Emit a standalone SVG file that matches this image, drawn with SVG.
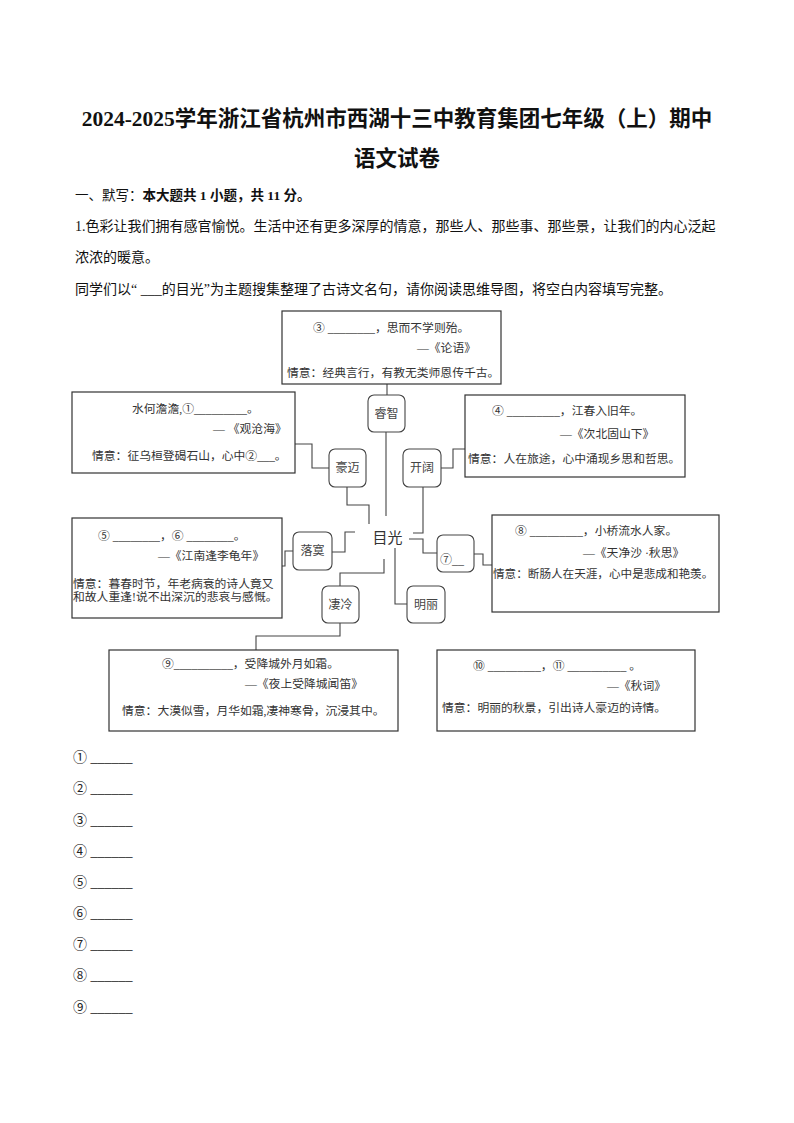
<svg xmlns="http://www.w3.org/2000/svg" width="794" height="1123" viewBox="0 0 794 1123">
<style>
text { font-family: "Liberation Serif", "Noto Sans CJK SC", serif; fill: #111; }
.title { font-size: 21.5px; font-weight: bold; text-anchor: middle; }
.body { font-size: 14px; }
.b { font-weight: bold; }
.bx { font-size: 11.8px; fill: #333; }
.box { fill: #fff; stroke: #333; stroke-width: 1.2; }
.node rect { fill: #fff; stroke: #444; stroke-width: 1.1; }
.lbl { font-size: 12px; fill: #444; text-anchor: middle; }
.center { font-size: 15px; fill: #333; text-anchor: middle; }
.conn polyline { fill: none; stroke: #444; stroke-width: 1.1; }
.ans { font-size: 14px; fill: #222; }
</style>
<rect width="794" height="1123" fill="#fff"/>

<text class="title" x="397" y="126">2024-2025学年浙江省杭州市西湖十三中教育集团七年级（上）期中</text>
<text class="title" x="397" y="166">语文试卷</text>
<text class="body" x="75" y="200" style="font-size:13.5px">一、默写：<tspan class="b">本大题共 1 小题，共 11 分。</tspan></text>
<text class="body" x="75" y="231">1.色彩让我们拥有感官愉悦。生活中还有更多深厚的情意，那些人、那些事、那些景，让我们的内心泛起</text>
<text class="body" x="75" y="262">浓浓的暖意。</text>
<text class="body" x="75" y="294">同学们以“ ___的目光”为主题搜集整理了古诗文名句，请你阅读思维导图，将空白内容填写完整。</text>

<g id="connectors" class="conn">
  <polyline points="387,384 387,395"/>
  <polyline points="386,432 386,516"/>
  <polyline points="295,444 312,444 312,468 329,468"/>
  <polyline points="347,487 347,505 369,505 369,524"/>
  <polyline points="465,449 453,449 453,468 441,468"/>
  <polyline points="423,487 423,533 413,533"/>
  <polyline points="409,539 423,539 423,553 437,553"/>
  <polyline points="474,554 483,554 483,565 492,565"/>
  <polyline points="355,532 345,532 345,552 332,552"/>
  <polyline points="293,551 285,551 285,566 282,566"/>
  <polyline points="384,559 384,573 340,573 340,586"/>
  <polyline points="340,623 340,636 256,636 256,650"/>
  <polyline points="395,548 395,604 407,604"/>
</g>

<g id="box3">
  <rect class="box" x="282" y="311" width="219" height="73"/>
  <text class="bx" x="313" y="332">③ ________，思而不学则殆。</text>
  <text class="bx" x="417" y="352">—《论语》</text>
  <text class="bx" x="287" y="377">情意：经典言行，有教无类师恩传千古。</text>
</g>
<g id="box12">
  <rect class="box" x="72" y="392" width="223" height="81"/>
  <text class="bx" x="132" y="413">水何澹澹,①_________。</text>
  <text class="bx" x="213" y="433">— 《观沧海》</text>
  <text class="bx" x="92" y="460">情意：征乌桓登碣石山，心中②___。</text>
</g>
<g id="box4">
  <rect class="box" x="465" y="395" width="220" height="82"/>
  <text class="bx" x="492" y="415">④ _________，江春入旧年。</text>
  <text class="bx" x="560" y="438">—《次北固山下》</text>
  <text class="bx" x="468" y="463">情意：人在旅途，心中涌现乡思和哲思。</text>
</g>
<g id="box56">
  <rect class="box" x="72" y="518" width="210" height="100"/>
  <text class="bx" x="98" y="540">⑤ ________，⑥ ________。</text>
  <text class="bx" x="158" y="560">—《江南逢李龟年》</text>
  <text class="bx" x="73" y="588">情意：暮春时节，年老病衰的诗人竟又</text>
  <text class="bx" x="73" y="601">和故人重逢!说不出深沉的悲哀与感慨。</text>
</g>
<g id="box8">
  <rect class="box" x="492" y="515" width="227" height="97"/>
  <text class="bx" x="515" y="535">⑧ _________，小桥流水人家。</text>
  <text class="bx" x="583" y="557">—《天净沙 ·秋思》</text>
  <text class="bx" x="493" y="578" style="font-size:11.6px">情意：断肠人在天涯，心中是悲成和艳羡。</text>
</g>
<g id="box9">
  <rect class="box" x="109" y="650" width="289" height="81"/>
  <text class="bx" x="162" y="668">⑨__________，受降城外月如霜。</text>
  <text class="bx" x="245" y="688">—《夜上受降城闻笛》</text>
  <text class="bx" x="122" y="715">情意：大漠似雪，月华如霜,凄神寒骨，沉浸其中。</text>
</g>
<g id="box1011">
  <rect class="box" x="437" y="650" width="258" height="81"/>
  <text class="bx" x="473" y="670">⑩ _________，⑪ __________ 。</text>
  <text class="bx" x="607" y="690">—《秋词》</text>
  <text class="bx" x="442" y="712">情意：明丽的秋景，引出诗人豪迈的诗情。</text>
</g>

<g id="node-ruizhi" class="node"><rect x="368" y="395" width="37" height="37" rx="6"/><text class="lbl" x="386.5" y="418">睿智</text></g>
<g id="node-haomai" class="node"><rect x="329" y="449" width="37" height="38" rx="6"/><text class="lbl" x="347.5" y="472">豪迈</text></g>
<g id="node-kaikuo" class="node"><rect x="403" y="449" width="38" height="38" rx="6"/><text class="lbl" x="422" y="472">开阔</text></g>
<g id="node-mubiao"><text class="center" x="387.5" y="543">目光</text></g>
<g id="node-luomo" class="node"><rect x="293" y="532" width="39" height="38" rx="6"/><text class="lbl" x="312.5" y="555">落寞</text></g>
<g id="node-7" class="node"><rect x="437" y="535" width="37" height="37" rx="6"/><text class="lbl" x="440" y="564" style="text-anchor:start">⑦__</text></g>
<g id="node-qileng" class="node"><rect x="322" y="586" width="37" height="37" rx="6"/><text class="lbl" x="340.5" y="609">凄冷</text></g>
<g id="node-mingli" class="node"><rect x="407" y="586" width="38" height="37" rx="6"/><text class="lbl" x="426" y="609">明丽</text></g>

<g id="answers">
  <text class="ans" x="73" y="762">① ______</text>
  <text class="ans" x="73" y="793">② ______</text>
  <text class="ans" x="73" y="825">③ ______</text>
  <text class="ans" x="73" y="856">④ ______</text>
  <text class="ans" x="73" y="887">⑤ ______</text>
  <text class="ans" x="73" y="918">⑥ ______</text>
  <text class="ans" x="73" y="949">⑦ ______</text>
  <text class="ans" x="73" y="980">⑧ ______</text>
  <text class="ans" x="73" y="1012">⑨ ______</text>
</g>
</svg>
